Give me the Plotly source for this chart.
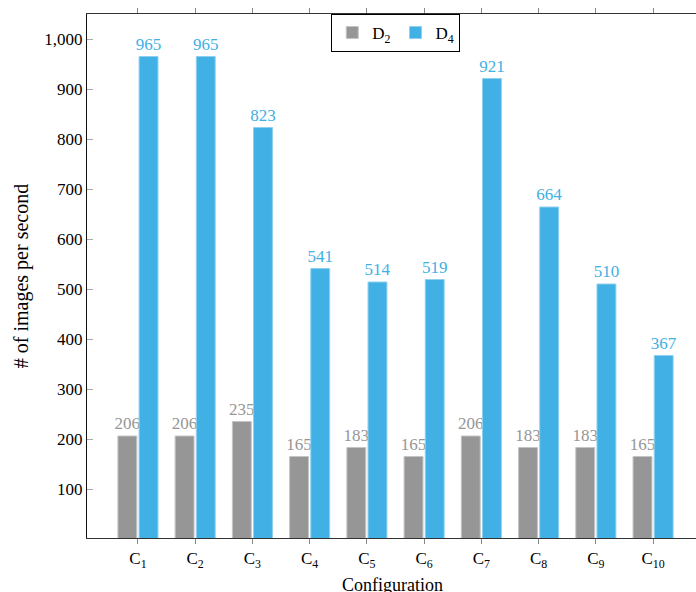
import plotly.graph_objects as go

categories = ["C<sub>%d</sub>" % i for i in range(1, 11)]
d2_values = [206, 206, 235, 165, 183, 165, 206, 183, 183, 165]
d4_values = [965, 965, 823, 541, 514, 519, 921, 664, 510, 367]
y_ticks = [100, 200, 300, 400, 500, 600, 700, 800, 900, 1000]

GRAY = "#969696"
BLUE = "#41b0e4"
FONT = "Liberation Serif"

x_idx = list(range(len(categories)))

fig = go.Figure()
fig.add_trace(go.Bar(
    x=x_idx, y=d2_values, name="D<sub>2</sub>",
    width=0.33, offset=-0.35,
    marker=dict(color=GRAY, line=dict(color="#c4c4c4", width=1)),
    text=[str(v) for v in d2_values], textposition="outside",
    constraintext="none",
    textfont=dict(color=GRAY, size=17, family=FONT), cliponaxis=False,
))
fig.add_trace(go.Bar(
    x=x_idx, y=d4_values, name="D<sub>4</sub>",
    width=0.33, offset=0.02,
    marker=dict(color=BLUE, line=dict(color="#8fd0ef", width=1)),
    text=[str(v) for v in d4_values], textposition="outside",
    constraintext="none",
    textfont=dict(color=BLUE, size=17, family=FONT), cliponaxis=False,
))

fig.update_layout(
    width=696, height=592,
    margin=dict(l=87, r=0, t=14, b=54),
    plot_bgcolor="white", paper_bgcolor="white",
    font=dict(family=FONT, size=17, color="black"),
    barmode="overlay",
    showlegend=True,
    legend=dict(
        orientation="h", x=0.507, xanchor="center", y=1.0, yanchor="top",
        bordercolor="black", borderwidth=1, bgcolor="white",
        font=dict(size=17, family=FONT), itemwidth=30,
        tracegroupgap=0,
    ),
    xaxis=dict(
        range=[-0.89, 9.75], tickmode="array", tickvals=x_idx, ticktext=categories,
        showgrid=False, zeroline=False, automargin=False,
        showline=True, linecolor="#333333", linewidth=1, mirror="ticks",
        ticks="outside", ticklen=5, tickcolor="#888888",
        tickfont=dict(size=17),
    ),
    yaxis=dict(
        range=[2, 1050], tickmode="array", tickvals=y_ticks,
        ticktext=["{:,}".format(v) for v in y_ticks],
        showgrid=False, zeroline=False, automargin=False,
        showline=True, linecolor="#111111", linewidth=1, mirror=False,
        ticks="inside", ticklen=6, tickcolor="#aaaaaa",
        title=dict(text="# of images per second", standoff=10),
        tickfont=dict(size=17),
    ),
    annotations=[dict(
        text="Configuration", xref="paper", yref="paper",
        x=0.502, y=-0.09, xanchor="center", yanchor="middle",
        showarrow=False, font=dict(size=18, family=FONT),
    )],
)

fig.write_html(
    "out.html",
    config={"displayModeBar": False},
    post_script="document.body.style.margin='0';document.body.style.overflow='hidden';",
)
